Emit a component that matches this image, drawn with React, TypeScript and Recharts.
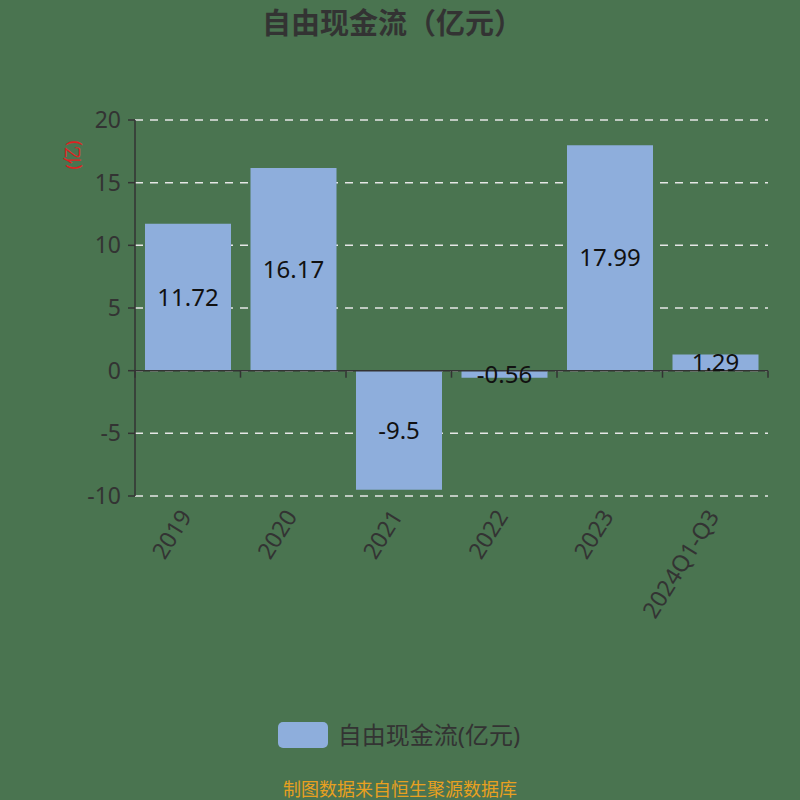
import React from "react";
import { BarChart, Bar, XAxis, YAxis, CartesianGrid, ReferenceLine, LabelList } from "recharts";

const categories = ["2019", "2020", "2021", "2022", "2023", "2024Q1-Q3"];
const fcfValues = [11.72, 16.17, -9.5, -0.56, 17.99, 1.29];
const yTicks = [-10, -5, 0, 5, 10, 15, 20];
const seriesName = "自由现金流(亿元)";
const titleText = "自由现金流（亿元）";
const unitText = "(亿)";
const footerText = "制图数据来自恒生聚源数据库";

const data = categories.map((c, i) => ({ name: c, value: fcfValues[i] }));

const FONT = "'Noto Sans', 'Noto Sans CJK SC', sans-serif";
const BG = "#4a7450";
const BAR = "#8eaedc";
const TXT = "#333333";

const XTick = (props: any) => {
  const { x, y, payload } = props;
  return (
    <g transform={`translate(${x - 2},${y + 8})`}>
      <text
        x={0}
        y={0}
        dy={8}
        textAnchor="end"
        transform="rotate(-58)"
        fill={TXT}
        fontSize={23}
        fontFamily={FONT}
      >
        {payload.value}
      </text>
    </g>
  );
};

const ZeroLine = (props: any) => {
  const { x1, y1, x2, y2 } = props;
  const n = categories.length;
  const step = (x2 - x1) / n;
  const ticks = [];
  for (let i = 0; i <= n; i++) {
    const tx = x1 + step * i;
    ticks.push(<line key={i} x1={tx} y1={y1} x2={tx} y2={y1 + 7} stroke={TXT} strokeWidth={1.5} />);
  }
  return (
    <g>
      <line x1={x1} y1={y1} x2={x2} y2={y2} stroke={TXT} strokeWidth={1.5} />
      {ticks}
    </g>
  );
};

export default function App() {
  return (
    <div style={{ position: "absolute", left: 0, top: 0, width: 800, height: 800, background: BG, fontFamily: FONT }}>
      <div
        style={{
          position: "absolute",
          top: 0,
          left: 0,
          width: 785,
          textAlign: "center",
          fontSize: 29,
          fontWeight: "bold",
          color: TXT,
          fontFamily: FONT,
        }}
      >
        {titleText}
      </div>
      <div
        style={{
          position: "absolute",
          left: 48,
          top: 143,
          width: 48,
          height: 24,
          transform: "rotate(-90deg)",
          color: "#e02020",
          fontSize: 18,
          lineHeight: "24px",
          textAlign: "center",
          whiteSpace: "nowrap",
        }}
      >
        {unitText}
      </div>
      <BarChart
        width={800}
        height={800}
        data={data}
        margin={{ top: 120, right: 32, bottom: 274, left: 70 }}
        barCategoryGap={10}
      >
        <CartesianGrid vertical={false} stroke="#e6e6e6" strokeDasharray="8 7" strokeWidth={1.5} />
        <XAxis
          dataKey="name"
          axisLine={false}
          tickLine={false}
          height={30}
          interval={0}
          tick={<XTick />}
        />
        <YAxis
          width={65}
          domain={[-10, 20]}
          ticks={yTicks}
          interval={0}
          axisLine={{ stroke: TXT, strokeWidth: 1.5 }}
          tickLine={{ stroke: TXT, strokeWidth: 1.5 }}
          tickSize={7}
          tickMargin={7}
          tick={{ fill: TXT, fontSize: 23, fontFamily: FONT }}
        />
        <ReferenceLine y={0} shape={<ZeroLine />} />
        <Bar dataKey="value" fill={BAR} isAnimationActive={false} name={seriesName}>
          <LabelList dataKey="value" position="center" fill="#111111" fontSize={24} fontFamily={FONT} />
        </Bar>
      </BarChart>
      <div
        style={{
          position: "absolute",
          top: 722,
          left: 0,
          width: 800,
          display: "flex",
          justifyContent: "center",
          alignItems: "center",
        }}
      >
        <div style={{ display: "flex", alignItems: "center", marginLeft: -2 }}>
          <div style={{ width: 50, height: 26, background: BAR, borderRadius: 5, marginRight: 10 }} />
          <span style={{ fontSize: 24, color: TXT, lineHeight: "26px" }}>{seriesName}</span>
        </div>
      </div>
      <div
        style={{
          position: "absolute",
          top: 775,
          left: 0,
          width: 800,
          textAlign: "center",
          fontSize: 18,
          color: "#e8a020",
          fontFamily: FONT,
        }}
      >
        {footerText}
      </div>
    </div>
  );
}
